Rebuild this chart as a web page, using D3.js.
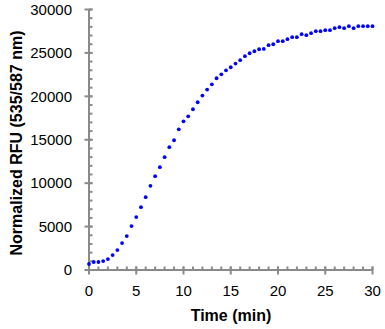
<!DOCTYPE html>
<html>
<head>
<meta charset="utf-8">
<script src="https://cdn.jsdelivr.net/npm/d3@7"></script>
<style>
  html, body { margin: 0; padding: 0; background: #fff; }
  svg { display: block; }
  text { font-family: "Liberation Sans", Arial, sans-serif; fill: #000; }
</style>
</head>
<body>
<svg id="chart" width="385" height="329"></svg>
<script>
// Data
const timeMin = [0,0.5,1,1.5,2,2.5,3,3.5,4,4.5,5,5.5,6,6.5,7,7.5,8,8.5,9,9.5,10,10.5,11,11.5,12,12.5,13,13.5,14,14.5,15,15.5,16,16.5,17,17.5,18,18.5,19,19.5,20,20.5,21,21.5,22,22.5,23,23.5,24,24.5,25,25.5,26,26.5,27,27.5,28,28.5,29,29.5,30];
const rfu = [690,920,920,1030,1260,1720,2300,3100,3910,5060,6090,7240,8390,9690,10800,11840,12990,14140,14940,16200,17120,17700,18510,19320,20090,20780,21380,22080,22540,23000,23350,23770,24160,24620,24960,25190,25420,25460,25890,26000,26350,26350,26580,26810,26810,27160,27040,27270,27500,27500,27620,27620,27850,27960,27850,28080,27850,28080,28080,28080,28080];
const xTicks = [0,5,10,15,20,25,30];
const yTicks = [0,5000,10000,15000,20000,25000,30000];
const xMinorTicks = d3.range(0, 31, 1);
const yMinorTicks = d3.range(0, 30001, 1000);
const xTitle = "Time (min)";
const yTitle = "Normalized RFU (535/587 nm)";

const svg = d3.select("#chart");
const x = d3.scaleLinear().domain([0, 30]).range([89, 372.5]);
const y = d3.scaleLinear().domain([0, 30000]).range([270, 9.5]);
const axisColor = "#8a8a8a";

// Minor ticks (inside)
const gx = svg.append("g");
gx.selectAll("line.minor").data(xMinorTicks).join("line")
  .attr("x1", d => x(d)).attr("x2", d => x(d))
  .attr("y1", 266.5).attr("y2", 270)
  .attr("stroke", axisColor).attr("stroke-width", 2);
gx.selectAll("line.major").data(xTicks).join("line")
  .attr("x1", d => x(d)).attr("x2", d => x(d))
  .attr("y1", 266.5).attr("y2", 274.5)
  .attr("stroke", axisColor).attr("stroke-width", 2);

const gy = svg.append("g");
gy.selectAll("line.minor").data(yMinorTicks).join("line")
  .attr("x1", 89).attr("x2", 92.5)
  .attr("y1", d => y(d)).attr("y2", d => y(d))
  .attr("stroke", axisColor).attr("stroke-width", 2);
gy.selectAll("line.major").data(yTicks).join("line")
  .attr("x1", 84.5).attr("x2", 92.5)
  .attr("y1", d => y(d)).attr("y2", d => y(d))
  .attr("stroke", axisColor).attr("stroke-width", 2);

// Axis lines
svg.append("line").attr("x1", x(0)).attr("x2", x(30)).attr("y1", y(0)).attr("y2", y(0))
  .attr("stroke", axisColor).attr("stroke-width", 2);
svg.append("line").attr("x1", x(0)).attr("x2", x(0)).attr("y1", y(0)).attr("y2", y(30000))
  .attr("stroke", axisColor).attr("stroke-width", 2);

// Tick labels
svg.append("g").selectAll("text").data(xTicks).join("text")
  .attr("x", d => x(d)).attr("y", 295.5)
  .attr("text-anchor", "middle").attr("font-size", 15)
  .text(d => d);
svg.append("g").selectAll("text").data(yTicks).join("text")
  .attr("x", 72).attr("y", d => y(d)).attr("dy", "0.35em")
  .attr("text-anchor", "end").attr("font-size", 15)
  .text(d => d);

// Titles
svg.append("text").attr("x", 231).attr("y", 321)
  .attr("text-anchor", "middle").attr("font-size", 16).attr("font-weight", "bold")
  .text(xTitle);
svg.append("text").attr("transform", "translate(22,143) rotate(-90)")
  .attr("text-anchor", "middle").attr("font-size", 16).attr("font-weight", "bold")
  .text(yTitle);

// Points
const pts = timeMin.map((t, i) => ({t, v: rfu[i]}));
svg.append("g").selectAll("circle").data(pts).join("circle")
  .attr("cx", d => x(d.t)).attr("cy", d => y(d.v)).attr("r", 1.9)
  .attr("fill", "#0000ff");
</script>
</body>
</html>
